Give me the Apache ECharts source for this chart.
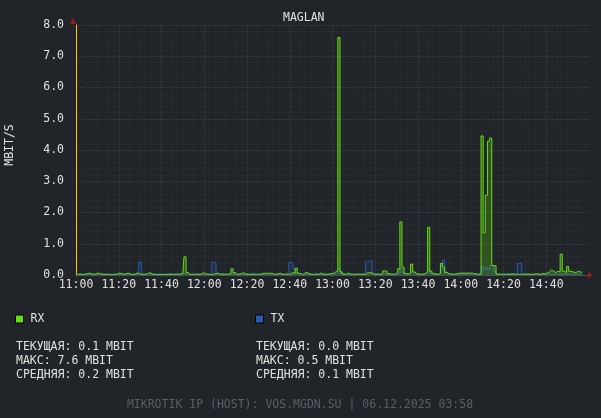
<!DOCTYPE html>
<html>
<head>
<meta charset="utf-8">
<script src="https://cdn.jsdelivr.net/npm/echarts@6/dist/echarts.min.js"></script>
<style>
html,body{margin:0;padding:0;background:#212529;}
#c{width:601px;height:418px;}
</style>
</head>
<body>
<div id="c"></div>
<script>
// ---- data (one value per minute, starting 11:00) ----
var tickLabels = ['11:00','11:20','11:40','12:00','12:20','12:40','13:00','13:20','13:40','14:00','14:20','14:40'];
var rx = [
0.02,0.02,0.03,0.02,0.02,0.03,0.06,0.04,0.03,0.02,
0.06,0.05,0.03,0.02,0.02,0.02,0.01,0.01,0.02,0.02,
0.06,0.05,0.03,0.02,0.06,0.05,0.02,0.02,0.03,0.07,
0.03,0.02,0.02,0.03,0.06,0.07,0.02,0.02,0.01,0.02,
0.02,0.01,0.02,0.02,0.03,0.02,0.02,0.03,0.02,0.03,
0.05,0.58,0.08,0.02,0.02,0.02,0.03,0.02,0.02,0.07,
0.05,0.03,0.02,0.02,0.03,0.04,0.06,0.02,0.03,0.02,
0.02,0.03,0.05,0.20,0.08,0.02,0.03,0.05,0.07,0.03,
0.02,0.02,0.03,0.02,0.02,0.03,0.02,0.05,0.06,0.05,
0.06,0.05,0.03,0.02,0.03,0.06,0.03,0.02,0.03,0.02,
0.04,0.08,0.05,0.22,0.06,0.03,0.02,0.08,0.07,0.03,
0.02,0.02,0.03,0.02,0.06,0.03,0.02,0.02,0.03,0.05,
0.05,0.10,0.15,7.60,0.10,0.03,0.02,0.06,0.03,0.02,
0.02,0.03,0.02,0.02,0.03,0.02,0.07,0.07,0.07,0.03,
0.02,0.03,0.02,0.05,0.13,0.12,0.04,0.03,0.02,0.03,
0.08,0.20,1.70,0.25,0.05,0.03,0.06,0.35,0.10,0.04,
0.03,0.02,0.03,0.05,0.10,1.53,0.12,0.05,0.03,0.02,
0.05,0.37,0.25,0.08,0.04,0.03,0.02,0.03,0.04,0.06,
0.06,0.06,0.06,0.06,0.06,0.06,0.04,0.03,0.02,0.03,
4.45,1.35,2.55,4.28,4.38,0.30,0.30,0.03,0.02,0.03,
0.02,0.02,0.03,0.02,0.04,0.02,0.03,0.02,0.02,0.03,
0.02,0.03,0.02,0.02,0.03,0.04,0.03,0.02,0.05,0.04,
0.06,0.10,0.16,0.12,0.08,0.12,0.10,0.67,0.12,0.08,
0.27,0.12,0.10,0.08,0.10,0.12,0.08,0.10
];
var tx = [
0.03,0.03,0.02,0.03,0.03,0.04,0.03,0.03,0.02,0.03,
0.03,0.03,0.04,0.03,0.03,0.03,0.02,0.03,0.03,0.03,
0.03,0.03,0.03,0.04,0.03,0.03,0.03,0.03,0.03,0.05,
0.42,0.04,0.03,0.03,0.03,0.03,0.03,0.03,0.03,0.03,
0.03,0.03,0.03,0.03,0.03,0.03,0.03,0.03,0.03,0.03,
0.03,0.04,0.03,0.03,0.03,0.03,0.03,0.03,0.03,0.03,
0.03,0.03,0.03,0.04,0.40,0.40,0.05,0.03,0.03,0.03,
0.03,0.03,0.03,0.04,0.03,0.03,0.03,0.03,0.03,0.03,
0.03,0.03,0.03,0.03,0.03,0.03,0.03,0.03,0.03,0.03,
0.03,0.03,0.03,0.03,0.03,0.03,0.03,0.03,0.03,0.05,
0.40,0.38,0.20,0.05,0.03,0.03,0.03,0.03,0.03,0.03,
0.03,0.03,0.03,0.03,0.03,0.03,0.03,0.03,0.03,0.03,
0.03,0.04,0.10,0.20,0.05,0.03,0.03,0.03,0.03,0.03,
0.03,0.03,0.03,0.03,0.03,0.04,0.42,0.45,0.46,0.05,
0.03,0.03,0.03,0.03,0.04,0.03,0.03,0.03,0.03,0.03,
0.03,0.05,0.20,0.08,0.03,0.03,0.04,0.10,0.05,0.03,
0.03,0.03,0.03,0.03,0.08,0.15,0.05,0.03,0.03,0.03,
0.05,0.30,0.48,0.10,0.04,0.03,0.03,0.03,0.03,0.03,
0.03,0.03,0.03,0.03,0.03,0.03,0.03,0.03,0.03,0.04,
0.28,0.15,0.25,0.18,0.30,0.30,0.10,0.03,0.03,0.03,
0.03,0.03,0.03,0.03,0.03,0.03,0.03,0.37,0.38,0.05,
0.03,0.03,0.03,0.03,0.03,0.03,0.03,0.03,0.03,0.03,
0.03,0.03,0.03,0.03,0.03,0.03,0.03,0.03,0.03,0.03,
0.03,0.03,0.03,0.03,0.03,0.03,0.03,0.03
];
var seriesNames = ['RX','TX'];
var rxStats = ['ТЕКУЩАЯ: 0.1 MBIT','МАКС: 7.6 MBIT','СРЕДНЯЯ: 0.2 MBIT'];
var txStats = ['ТЕКУЩАЯ: 0.0 MBIT','МАКС: 0.5 MBIT','СРЕДНЯЯ: 0.1 MBIT'];
var titleText = 'MAGLAN';
var yName = 'MBIT/S';
var footerText = 'MIKROTIK IP (HOST): VOS.MGDN.SU | 06.12.2025 03:58';

// ---- chart ----
var FONT = 'DejaVu Sans Mono';
var RXC = '#66dd11', TXC = '#2a58b0';
var chart = echarts.init(document.getElementById('c'), null, {renderer:'canvas'});
function pairs(arr){ return arr.map(function(v,i){ return [i, v]; }); }
var gridCol = '#3a3f45';
chart.setOption({
  backgroundColor: '#212529',
  animation: false,
  title: {text: titleText, left: 283, top: 12, padding: 0,
    textStyle: {color:'#e0e0e0', fontFamily: FONT, fontSize: 11.5, fontWeight:'normal'}},
  grid: {left: 76, right: 12, top: 25, bottom: 143, containLabel: false, outerBoundsMode: 'none'},
  legend: [
    {data:[seriesNames[0]], left: 15, top: 313, padding: 0, icon:'rect', itemWidth: 8, itemHeight: 8,
     itemStyle:{borderColor:'#000', borderWidth:1},
     textStyle:{color:'#e0e0e0', fontFamily:FONT, fontSize:11.5, padding:[0,0,0,2]}},
    {data:[seriesNames[1]], left: 255, top: 313, padding: 0, icon:'rect', itemWidth: 8, itemHeight: 8,
     itemStyle:{borderColor:'#000', borderWidth:1},
     textStyle:{color:'#e0e0e0', fontFamily:FONT, fontSize:11.5, padding:[0,0,0,2]}}
  ],
  xAxis: {
    type: 'value', min: 0, max: 240, interval: 20,
    axisLine: {show: true, lineStyle: {color: '#4a4f55', width: 1}},
    axisTick: {show: true, length: 2, lineStyle: {color:'#4a4f55'}},
    minorTick: {show: false, splitNumber: 4},
    minorSplitLine: {show: true, lineStyle: {color: '#2b2f34', type: 'dotted'}},
    splitLine: {show: true, showMaxLine: false, lineStyle: {color: gridCol, type: 'dotted'}},
    axisLabel: {color: '#e0e0e0', fontFamily: FONT, fontSize: 11.5, margin: 4,
      showMaxLabel: false,
      formatter: function(v){ return (v % 20 === 0 && tickLabels[v/20]) ? tickLabels[v/20] : ''; }}
  },
  yAxis: {
    type: 'value', min: 0, max: 8, interval: 1,
    axisLine: {show: true, lineStyle: {color: '#ffcc00', width: 1}},
    axisTick: {show: false},
    minorTick: {show: false, splitNumber: 5},
    minorSplitLine: {show: true, lineStyle: {color: '#2b2f34', type: 'dotted'}},
    splitLine: {show: true, lineStyle: {color: gridCol, type: 'dotted'}},
    axisLabel: {color: '#e0e0e0', fontFamily: FONT, fontSize: 11.5, margin: 12,
      formatter: function(v){ return v.toFixed(1); }}
  },
  series: [
    {name: seriesNames[1], type: 'line', step: 'middle', data: pairs(tx), symbol: 'none',
     lineStyle: {color: TXC, width: 1}, itemStyle: {color: TXC},
     areaStyle: {color: TXC, opacity: 0.15}, z: 2},
    {name: seriesNames[0], type: 'line', step: 'middle', data: pairs(rx), symbol: 'none',
     lineStyle: {color: RXC, width: 1}, itemStyle: {color: RXC},
     areaStyle: {color: RXC, opacity: 0.25}, z: 3}
  ],
  graphic: [
    {type:'polygon', shape:{points:[[70,24],[76,24],[73,18]]}, style:{fill:'#9b1b1b'}, z: 10},
    {type:'polygon', shape:{points:[[588,272],[588,278],[593,275]]}, style:{fill:'#9b1b1b'}, z: 10},
    {type:'text', x: 10, y: 145, rotation: Math.PI/2, style:{text: yName, fill:'#e0e0e0', font: '11.5px "DejaVu Sans Mono"', align:'center', verticalAlign:'middle'}},
    {type:'text', left: 16, top: 340, style:{text: rxStats.join('\n'), fill:'#e0e0e0', font: '11.5px "DejaVu Sans Mono"', lineHeight: 14}},
    {type:'text', left: 256, top: 340, style:{text: txStats.join('\n'), fill:'#e0e0e0', font: '11.5px "DejaVu Sans Mono"', lineHeight: 14}},
    {type:'text', x: 300, y: 405, style:{text: footerText, fill:'#5a5f65', font: '11.5px "DejaVu Sans Mono"', align:'center', verticalAlign:'middle'}}
  ]
});
</script>
</body>
</html>
